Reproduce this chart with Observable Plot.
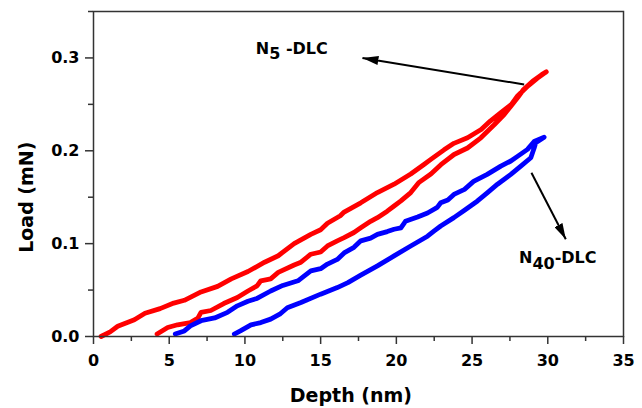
<!DOCTYPE html>
<html><head><meta charset="utf-8">
<script src="https://cdn.jsdelivr.net/npm/d3@7"></script>
<script src="https://cdn.jsdelivr.net/npm/@observablehq/plot@0.6"></script>
<style>body{margin:0;background:#fff}</style>
</head><body><div id="chart"></div>
<script>
// N5-DLC: loading then unloading (depth nm, load mN)
const n5Depth = [0.5,1.1,1.6,2.7,3.4,4.4,5.3,6.0,7.1,8.2,9.1,10.2,11.3,12.2,13.25,14.35,15.0,15.45,16.3,16.55,17.65,18.75,19.85,20.95,21.8,22.3,23.15,23.8,24.7,25.6,26.2,26.9,27.6,28.0,28.7,29.3,29.9,
  29.6,29.0,28.4,28.0,27.56,27.12,26.46,25.58,24.7,23.81,22.94,22.28,21.5,20.95,20.3,19.85,19.4,18.75,18.3,17.65,17.2,16.55,16.1,15.45,15.0,14.35,13.7,13.25,12.2,11.7,11.05,10.8,10.2,9.5,8.6,7.75,7.1,6.9,6.4,5.55,4.9,4.2];
const n5Load = [0.000,0.005,0.011,0.018,0.025,0.030,0.036,0.039,0.048,0.054,0.062,0.070,0.080,0.087,0.100,0.110,0.115,0.122,0.130,0.134,0.144,0.155,0.164,0.175,0.185,0.191,0.201,0.208,0.214,0.223,0.232,0.241,0.250,0.259,0.270,0.278,0.285,
  0.282,0.275,0.266,0.257,0.248,0.239,0.228,0.214,0.203,0.196,0.185,0.175,0.166,0.155,0.146,0.1405,0.135,0.128,0.124,0.117,0.112,0.1065,0.103,0.0975,0.091,0.0886,0.080,0.077,0.069,0.062,0.060,0.0545,0.049,0.042,0.0355,0.028,0.026,0.020,0.015,0.0126,0.0097,0.0026];
// N40-DLC: loading then unloading
const n40Depth = [5.4,6.0,6.4,7.1,8.0,8.85,9.5,10.2,10.8,11.7,12.5,13.5,14.35,15.0,15.45,16.1,16.55,17.2,17.65,18.3,18.75,19.4,19.85,20.3,20.6,21.4,22.06,22.7,22.93,23.4,23.8,24.5,25.1,26.0,26.9,27.56,28.0,28.66,29.1,29.76,
  29.2,29.1,28.88,28.22,27.56,26.68,26.02,25.36,24.5,23.8,22.93,22.5,22.06,20.95,19.85,18.75,17.65,16.8,16.1,15.0,13.7,12.8,12.3,11.7,11.05,10.4,9.7,9.3];
const n40Load = [0.0026,0.006,0.0115,0.017,0.020,0.026,0.033,0.038,0.041,0.049,0.055,0.060,0.0706,0.073,0.078,0.083,0.090,0.096,0.103,0.106,0.110,0.113,0.1155,0.117,0.124,0.1287,0.133,0.139,0.144,0.147,0.153,0.1585,0.167,0.1746,0.1835,0.189,0.194,0.2015,0.210,0.2147,
  0.2086,0.203,0.1925,0.1835,0.1746,0.164,0.155,0.146,0.136,0.128,0.119,0.1137,0.108,0.0975,0.0868,0.076,0.066,0.058,0.0527,0.0456,0.0366,0.031,0.024,0.0187,0.015,0.0126,0.006,0.0026];

const xTicks = [0,5,10,15,20,25,30,35];
const xMinor = [2.5,7.5,12.5,17.5,22.5,27.5,32.5];
const yTicks = [0,0.1,0.2,0.3];
const yMinor = [0.05,0.15,0.25,0.35];

// annotations
const labelBase = ["N","N"];
const labelSub = ["5","40"];
const labelRest = [" -DLC","-DLC"];
const labelX = [10.72, 28.1];
const labelY = [0.304, 0.0796];
const arrowX1 = [28.44, 28.92];
const arrowY1 = [0.2714, 0.1763];
const arrowX2 = [17.76, 31.19];
const arrowY2 = [0.300, 0.1047];

const n5Rows = n5Depth.map((d,i)=>({depth:d, load:n5Load[i]}));
const n40Rows = n40Depth.map((d,i)=>({depth:d, load:n40Load[i]}));
const labelRows = labelBase.map((b,i)=>({x:labelX[i], y:labelY[i], t:b+labelSub[i]+labelRest[i]}));
const arrowRows = arrowX1.map((d,i)=>({x1:d, y1:arrowY1[i], x2:arrowX2[i], y2:arrowY2[i]}));

const axisColor = "#333";
const plot = Plot.plot({
  width: 642, height: 408,
  marginLeft: 93, marginRight: 19, marginTop: 11, marginBottom: 72,
  style: {fontFamily: "DejaVu Sans", fontSize: "16px", fontWeight: "bold", color: "#000", background: "#fff"},
  x: {domain: [0,35]},
  y: {domain: [0,0.35]},
  marks: [
    Plot.line(n5Rows, {x:"depth", y:"load", stroke:"#ff0000", strokeWidth:4.8, strokeLinejoin:"round", strokeLinecap:"round"}),
    Plot.line(n40Rows, {x:"depth", y:"load", stroke:"#0000ff", strokeWidth:4.8, strokeLinejoin:"round", strokeLinecap:"round"}),
    Plot.frame({stroke: axisColor, strokeWidth: 1.5}),
    Plot.axisX(xTicks, {tickSize: 8, tickPadding: 10, label: null, stroke: axisColor, strokeWidth: 1.5, fill: "#000"}),
    Plot.axisX(xMinor, {tickSize: 5, tickFormat: () => "", label: null, stroke: axisColor, strokeWidth: 1.5}),
    Plot.axisY(yTicks, {tickSize: 8, tickPadding: 6, tickFormat: d => d.toFixed(1), label: null, stroke: axisColor, strokeWidth: 1.5, fill: "#000"}),
    Plot.axisY(yMinor, {tickSize: 5, tickFormat: () => "", label: null, stroke: axisColor, strokeWidth: 1.5}),
    Plot.text(["Depth (nm)"], {x: 17, frameAnchor: "bottom", lineAnchor: "middle", dy: 59, fontSize: 19, fill: "#000"}),
    Plot.text(["Load (mN)"], {y: 0.15, frameAnchor: "left", textAnchor: "middle", rotate: -90, dx: -67, fontSize: 19, fill: "#000"}),
    Plot.link(arrowRows, {x1:"x1", y1:"y1", x2:"x2", y2:"y2", stroke:"#000", strokeWidth:2, className:"arr"}),
    Plot.text(labelRows, {x:"x", y:"y", text:"t", textAnchor:"start", lineAnchor:"bottom", fontSize:16, fill:"#000", className:"lbl"})
  ]
});

// subscripts
const subShift = [4.5, 6];
d3.select(plot).selectAll("g.lbl text").each(function(i){
  const t = d3.select(this);
  t.text(null);
  t.append("tspan").text(labelBase[i]);
  t.append("tspan").attr("dy", subShift[i]).text(labelSub[i]);
  t.append("tspan").attr("dy", -subShift[i]).text(labelRest[i]);
});
// filled arrowheads
const defs = d3.select(plot).insert("defs", ":first-child");
defs.append("marker").attr("id","ah").attr("viewBox","0 0 16 9").attr("refX",16).attr("refY",4.5)
  .attr("markerWidth",16).attr("markerHeight",9).attr("markerUnits","userSpaceOnUse").attr("orient","auto")
  .append("path").attr("d","M0,0L16,4.5L0,9Z").attr("fill","#000");
d3.select(plot).selectAll("g.arr path").attr("marker-end","url(#ah)");

document.getElementById("chart").appendChild(plot);
</script>
</body></html>
